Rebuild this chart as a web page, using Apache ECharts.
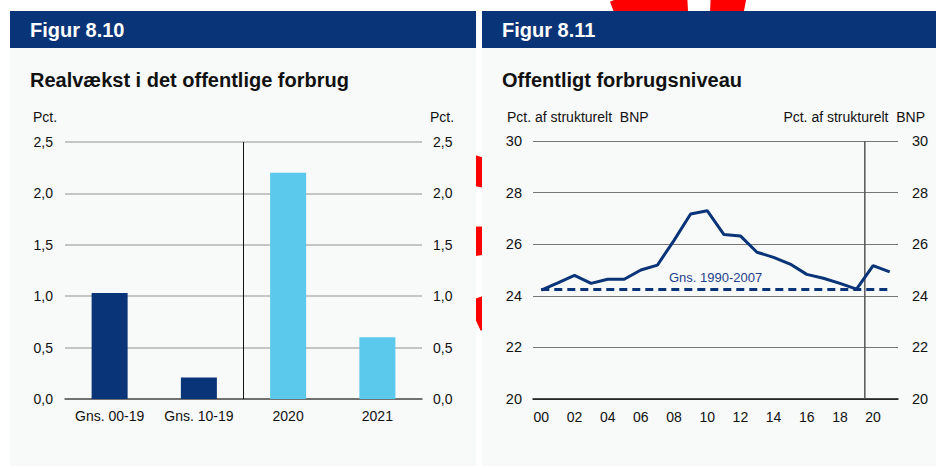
<!DOCTYPE html>
<html>
<head>
<meta charset="utf-8">
<script src="https://cdn.jsdelivr.net/npm/echarts@6/dist/echarts.min.js"></script>
<style>
  html, body { margin: 0; padding: 0; background: #ffffff; }
  #chart { width: 936px; height: 468px; }
</style>
</head>
<body>
<div id="chart"></div>
<script>
// Figur 8.10: real growth in public consumption (pct.)
const barCategories = ['Gns. 00-19', 'Gns. 10-19', '2020', '2021'];
const barValues = [1.03, 0.21, 2.2, 0.6];
const barHistoricCount = 2;          // first two bars are historical averages
const barForecastBoundary = 2;       // divider between averages and 2020

// Figur 8.11: public consumption level (pct. of structural GDP)
const years = ['00', '01', '02', '03', '04', '05', '06', '07', '08', '09', '10',
               '11', '12', '13', '14', '15', '16', '17', '18', '19', '20', '21'];
const levelValues = [24.22, 24.5, 24.79, 24.48, 24.64, 24.64, 25.0, 25.19, 26.15, 27.17, 27.3,
                     26.38, 26.32, 25.69, 25.49, 25.23, 24.83, 24.68, 24.48, 24.26, 25.17, 24.93];
const avgLevel = 24.25;
const avgLabel = 'Gns. 1990-2007';
const levelForecastBoundary = 20;    // between 2019 and 2020

const NAVY = '#0a3478';
const LIGHT = '#5bc9eb';
const PANEL = '#f8f9f9';
const TXT = '#111111';
const FONT = 'Liberation Sans, Arial, sans-serif';

const commaFmt = v => v.toFixed(1).replace('.', ',');

// hand-drawn style dash rhythm for the red ring (irregular strokes near the top)
const ringDash = [30, 41.3, 30, 41.3, 30, 41.3, 30, 59.1, 74, 23, 35, 68];
for (let i = 0; i < 13; i++) ringDash.push(30, 41.03);

const chart = echarts.init(document.getElementById('chart'), null, { renderer: 'svg' });

chart.setOption({
  animation: false,
  backgroundColor: '#ffffff',
  graphic: [
    // red dashed ring sitting behind both panels
    { type: 'ellipse', z: -10, silent: true,
      shape: { cx: 700, cy: 224, rx: 230, ry: 224 },
      style: { fill: 'none', stroke: '#ff0000', lineWidth: 30, lineDash: ringDash, lineDashOffset: 33 } },
    // panel backgrounds and header bars
    { type: 'rect', z: -5, shape: { x: 10, y: 48, width: 466, height: 418 }, style: { fill: PANEL } },
    { type: 'rect', z: -5, shape: { x: 482, y: 48, width: 454, height: 418 }, style: { fill: PANEL } },
    { type: 'rect', z: -5, shape: { x: 10, y: 11, width: 466, height: 37 }, style: { fill: NAVY } },
    { type: 'rect', z: -5, shape: { x: 482, y: 11, width: 454, height: 37 }, style: { fill: NAVY } },
    { type: 'text', x: 30, y: 30, z: 5, style: { text: 'Figur 8.10', fill: '#ffffff', font: 'bold 20px ' + FONT, verticalAlign: 'middle' } },
    { type: 'text', x: 502, y: 30, z: 5, style: { text: 'Figur 8.11', fill: '#ffffff', font: 'bold 20px ' + FONT, verticalAlign: 'middle' } },
    { type: 'text', x: 30, y: 80, z: 5, style: { text: 'Realvækst i det offentlige forbrug', fill: TXT, font: 'bold 20px ' + FONT, verticalAlign: 'middle' } },
    { type: 'text', x: 502, y: 80, z: 5, style: { text: 'Offentligt forbrugsniveau', fill: TXT, font: 'bold 20px ' + FONT, verticalAlign: 'middle' } },
    // axis units
    { type: 'text', x: 33, y: 117, z: 5, style: { text: 'Pct.', fill: TXT, font: '14px ' + FONT, verticalAlign: 'middle' } },
    { type: 'text', x: 430, y: 117, z: 5, style: { text: 'Pct.', fill: TXT, font: '14px ' + FONT, verticalAlign: 'middle' } },
    { type: 'text', x: 507, y: 117, z: 5, style: { text: 'Pct. af strukturelt  BNP', fill: TXT, font: '14px ' + FONT, verticalAlign: 'middle' } },
    { type: 'text', x: 925, y: 117, z: 5, style: { text: 'Pct. af strukturelt  BNP', fill: TXT, font: '14px ' + FONT, verticalAlign: 'middle', align: 'right' } }
  ],
  grid: [
    { left: 65, right: 514, top: 142, bottom: 69 },
    { left: 533, right: 38, top: 141, bottom: 69 }
  ],
  xAxis: [
    { type: 'category', gridIndex: 0, data: barCategories,
      axisLine: { lineStyle: { color: '#555555', width: 1.5 } },
      axisTick: { length: 5, lineStyle: { color: '#555555', width: 1.5 } },
      axisLabel: { color: TXT, fontSize: 14, fontFamily: FONT, margin: 10, interval: 0 } },
    { type: 'value', gridIndex: 0, min: 0, max: barCategories.length, show: false },
    { type: 'category', gridIndex: 1, data: years,
      axisLine: { lineStyle: { color: '#111111', width: 1.5 } },
      axisTick: { length: 5, interval: 0, lineStyle: { color: '#111111', width: 1.5 } },
      axisLabel: { color: TXT, fontSize: 14, fontFamily: FONT, margin: 11, interval: 1 } },
    { type: 'value', gridIndex: 1, min: 0, max: years.length, show: false }
  ],
  yAxis: [
    { type: 'value', gridIndex: 0, min: 0, max: 2.5, interval: 0.5, position: 'left',
      axisLine: { show: false }, axisTick: { show: false },
      splitLine: { lineStyle: { color: '#b3b3b3', width: 1.5 } },
      axisLabel: { color: TXT, fontSize: 14, fontFamily: FONT, margin: 12, formatter: commaFmt } },
    { type: 'value', gridIndex: 0, min: 0, max: 2.5, interval: 0.5, position: 'right',
      axisLine: { show: false }, axisTick: { show: false }, splitLine: { show: false },
      axisLabel: { color: TXT, fontSize: 14, fontFamily: FONT, margin: 11, formatter: commaFmt } },
    { type: 'value', gridIndex: 1, min: 20, max: 30, interval: 2, position: 'left',
      axisLine: { show: false }, axisTick: { show: false },
      splitLine: { lineStyle: { color: '#777777', width: 1 } },
      axisLabel: { color: TXT, fontSize: 14.5, fontFamily: FONT, margin: 11 } },
    { type: 'value', gridIndex: 1, min: 20, max: 30, interval: 2, position: 'right',
      axisLine: { show: false }, axisTick: { show: false }, splitLine: { show: false },
      axisLabel: { color: TXT, fontSize: 14.5, fontFamily: FONT, margin: 14 } }
  ],
  series: [
    { type: 'bar', xAxisIndex: 0, yAxisIndex: 0, barWidth: 36, z: 3,
      data: barValues,
      itemStyle: { color: p => (p.dataIndex < barHistoricCount ? NAVY : LIGHT) } },
    { type: 'line', xAxisIndex: 1, yAxisIndex: 0, symbol: 'none', z: 1, silent: true,
      lineStyle: { color: '#111111', width: 1 },
      data: [[barForecastBoundary, 0], [barForecastBoundary, 2.5]] },
    { type: 'line', xAxisIndex: 3, yAxisIndex: 2, symbol: 'none', z: 1, silent: true,
      lineStyle: { color: '#555555', width: 1.5 },
      data: [[levelForecastBoundary, 20], [levelForecastBoundary, 30]] },
    { type: 'line', xAxisIndex: 2, yAxisIndex: 2, symbol: 'none', z: 3,
      lineStyle: { color: NAVY, width: 3 },
      data: levelValues,
      markLine: {
        silent: true, symbol: 'none',
        lineStyle: { color: NAVY, width: 3, type: [8, 5] },
        label: { show: true, position: 'middle', formatter: avgLabel, color: '#1d3f8a',
                 fontSize: 13, fontFamily: FONT, distance: 5 },
        data: [[{ xAxis: years[0], yAxis: avgLevel }, { xAxis: years[years.length - 1], yAxis: avgLevel }]]
      } }
  ]
});
</script>
</body>
</html>
